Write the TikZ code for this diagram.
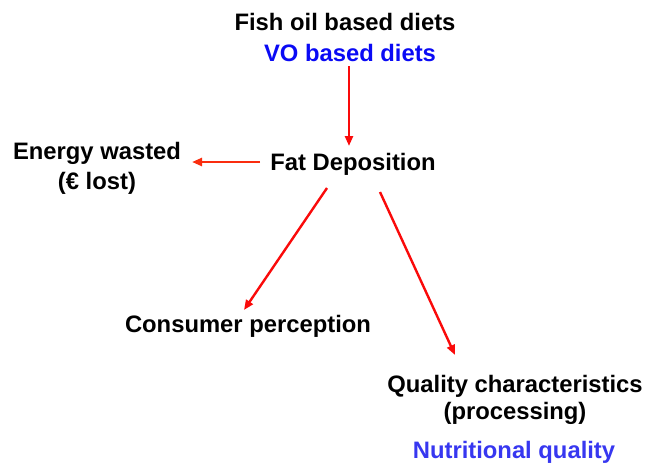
\documentclass[tikz,border=0pt]{standalone}
\usepackage{fontspec}
\setmainfont{Liberation Sans}
\usetikzlibrary{arrows.meta,calc}
\definecolor{voblue}{RGB}{10,10,245}
\definecolor{nutblue}{RGB}{55,55,240}
\definecolor{arrred}{RGB}{250,10,10}
\definecolor{arrorange}{RGB}{250,45,15}
\tikzset{
  lbl/.style={inner sep=0pt, align=center, font=\bfseries\fontsize{23.8}{30}\selectfont},
  arr/.style={draw=arrred, line width=2.4pt, -{Triangle[length=10pt,width=8pt]}}
}
\begin{document}
\begin{tikzpicture}[x=1pt,y=-1pt]
\useasboundingbox (0,0) rectangle (647,467);
\node[lbl] (fish) at (345,22) {Fish oil based diets};
\node[lbl, text=voblue] (vo) at (350,53) {VO based diets};
\node[lbl] (fat) at (353,164) {Fat Deposition};
\node[lbl] (energy) at (97,168) {Energy wasted\\(€ lost)};
\node[lbl] (cons) at (248,326) {Consumer perception};
\node[lbl, font=\bfseries\fontsize{23.8}{27}\selectfont] (qual) at (515,399.5) {Quality characteristics\\(processing)};
\node[lbl, text=nutblue] (nut) at (514,452) {Nutritional quality};
\draw[arr] ($(vo)+(-1,13)$) -- ($(fat)+(-4,-18)$);
\draw[arr, draw=arrorange] ($(fat)+(-93,-2)$) -- ($(energy)+(95,-6)$);
\draw[arr] ($(fat)+(-26,24)$) -- ($(cons)+(-4,-16)$);
\draw[arr] ($(fat)+(27,28)$) -- ($(qual)+(-60,-44.5)$);
\end{tikzpicture}
\end{document}
